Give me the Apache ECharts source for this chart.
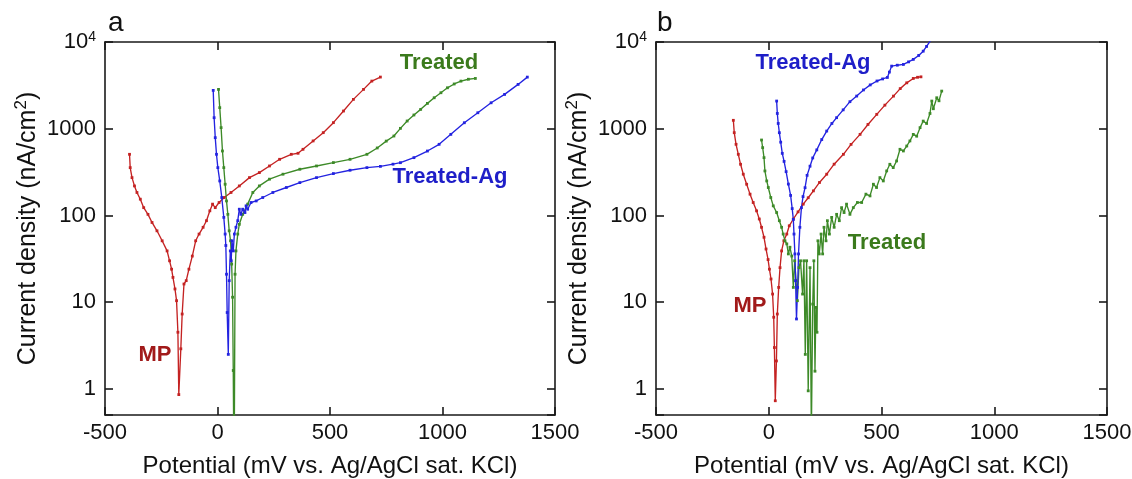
<!DOCTYPE html>
<html>
<head>
<meta charset="utf-8">
<script src="https://cdn.jsdelivr.net/npm/echarts@6/dist/echarts.min.js"></script>
<style>
html,body{margin:0;padding:0;background:#fff;}
#c{width:1132px;height:479px;}
</style>
</head>
<body>
<div id="c"></div>
<script>
// ---------- data (panel a) ----------
const aMP_x = [-391,-388,-380,-369,-358,-343,-328,-309,-291,-269,-246,-224,-213,-204,-198,-189,-182,-176,-172,-163,-157,-149,-139,-127,-112,-97,-82,-64,-49,-34,-22,-10,7,30,60,97,142,186,231,276,328,358,380,425,470,515,560,604,649,686,724];
const aMP_y = [507,356,273,219,184,154,123,103,83,66.5,51,39,30,24,19.3,14.2,10.4,4.5,0.86,2.9,7.3,16.2,17.7,24,34,51,61,73,87,113,135,123,141,161,184,219,273,312,372,444,507,521,579,723,901,1175,1600,2180,2842,3543,3940];

const aTr_x = [4.5,10,16,22,28,34,40,46,52,58,63,67,70,72,75,78,82,90,97,112,134,157,186,231,291,366,440,515,589,664,710,750,784,813,843,873,903,933,963,993,1022,1052,1082,1115,1146];
const aTr_y = [2840,1750,1029,554,356,229,147,103,66.5,51,27.5,11.4,1.63,0.3,0.4,21,39,61,79,103,135,184,219,262,299,341,372,407,444,507,600,720,824,1010,1227,1440,1672,1960,2275,2600,2965,3280,3540,3720,3800];

const aAg_x = [-19,-15,-10,-4.5,1.5,10,19,28,34,37,40,43,48,52,57,61,64,70,75,82,90,97,104,112,122,127,134,149,172,201,246,306,366,440,515,589,664,724,780,813,873,933,985,1037,1097,1157,1216,1276,1336,1377];
const aAg_y = [2767,1340,789,507,356,250,161,95,61,45,21,7.6,2.5,17.7,39,30,51,39,61,73,87,118,103,118,108,129,118,141,147,161,184,210,239,273,304,332,356,368,390,406,464,553,661,861,1172,1528,1991,2488,3243,3937];

// ---------- data (panel b) ----------
const bMP_x = [-157,-153,-145,-135,-125,-113,-98,-83,-69,-54,-42,-32,-21,-12,-3,3,10,17,22,25,29,34,38,44,50,57,67,80,91,109,130,153,175,198,225,257,290,331,365,405,440,479,515,553,583,612,641,660,675];
const bMP_y = [1250,901,661,507,389,299,229,176,141,113,91,73,56,41,31,24,18.5,12.4,6.7,3.0,0.73,2.1,7.3,14.8,25,39,51,61,76,91,110,135,160,192,240,299,390,507,660,861,1120,1465,1870,2377,2900,3383,3800,3920,3966];

const bAg_x = [35,38,42,47,53,60,68,77,87,97,104,109,112,116,119,123,128,132,138,145,152,161,170,183,195,213,235,257,280,301,330,360,390,420,450,480,505,526,535,545,570,597,620,641,665,685,700,715,725];
const bAg_y = [2085,1500,1150,900,700,520,420,320,230,170,120,90,61,36,17.7,6.4,14.8,36,73,123,165,209,290,370,460,570,750,940,1150,1341,1650,2050,2380,2800,3200,3550,3750,3900,4500,5270,5400,5510,5900,6300,7000,7840,8900,10200,11000];

const bTr_x = [-32,-27,-21,-17,-9,-2,9,20,35,47,57,64,72,80,87,94,102,109,115,121,127,134,141,150,156,162,168,175,183,189,195,200,205,209,214,218,224,232,239,245,254,260,269,279,290,301,313,323,334,345,360,375,393,412,431,449,464,478,493,508,523,537,552,567,582,597,612,626,641,656,671,685,700,715,723,730,745,755,767];
const bTr_y = [741,605,464,326,250,210,161,129,108,87,73,61,51,47,36,43,34,14.8,30,17.7,10.4,25,30,12.4,30,2.5,30,0.95,25,0.3,9.5,30,1.6,8.7,4.5,51,36,61,36,73,51,87,61,95,73,103,87,123,108,135,103,123,141,141,176,168,229,210,273,250,326,389,356,425,579,554,632,723,860,820,1029,1225,1150,1500,2084,1700,2275,2100,2716];

// ---------- axes text ----------
const xTicks = [-500, 0, 500, 1000, 1500];
const yTicks = [1, 10, 100, 1000, 10000];
const xTitle = 'Potential (mV vs. Ag/AgCl sat. KCl)';
const yTitle = '{n|Current density (nA/cm}{s|2}{n|)}';
const panelLetters = ['a', 'b'];
const seriesNames = ['MP', 'Treated', 'Treated-Ag'];

// ---------- styles ----------
const FONT = '"Liberation Sans", Arial, Helvetica, sans-serif';
const RED = '#c42222', GREEN = '#3d8a28', BLUE = '#2323e0';
const LRED = '#a11a1a', LGREEN = '#3b7a1c', LBLUE = '#1e1ec8';
const AX = '#1a1a1a';

function zip(xs, ys) { return xs.map((x, i) => [x, ys[i]]); }

const grids = [
  {left: 105, top: 42, width: 450, height: 373, outerBoundsMode: 'none', containLabel: false},
  {left: 656, top: 42, width: 451, height: 373, outerBoundsMode: 'none', containLabel: false}
];

function xAxes(g) {
  const base = {
    type: 'value', gridIndex: g, min: xTicks[0], max: xTicks[xTicks.length - 1], interval: 500,
    axisLine: {show: true, onZero: false, lineStyle: {color: AX, width: 1.6}},
    axisTick: {show: true, inside: true, length: 8, lineStyle: {color: AX, width: 1.6}},
    splitLine: {show: false}
  };
  return [
    Object.assign({}, base, {
      position: 'bottom',
      axisLabel: {show: true, margin: 7, color: '#111', fontSize: 22, fontFamily: FONT,
        showMinLabel: true, showMaxLabel: true, hideOverlap: false,
        formatter: function (v) { return String(v); }},
      name: xTitle, nameLocation: 'middle', nameGap: 39,
      nameTextStyle: {fontSize: 24, color: '#111', fontFamily: FONT}
    }),
    Object.assign({}, base, {position: 'top', axisLabel: {show: false}})
  ];
}
function yAxes(g) {
  const base = {
    type: 'log', logBase: 10, gridIndex: g, min: 0.5, max: 10000,
    axisLine: {show: true, onZero: false, lineStyle: {color: AX, width: 1.6}},
    axisTick: {show: true, inside: true, length: 8, lineStyle: {color: AX, width: 1.6}},
    minorTick: {show: false},
    splitLine: {show: false}
  };
  return [
    Object.assign({}, base, {
      position: 'left',
      axisLabel: {
        show: true, margin: 9, color: '#111', fontSize: 22, fontFamily: FONT,
        showMinLabel: true, showMaxLabel: true, hideOverlap: false,
        formatter: function (v) {
          const l = Math.log10(v);
          if (Math.abs(l - Math.round(l)) > 1e-6) return '';
          const r = Math.round(l);
          if (yTicks.indexOf(Math.pow(10, r)) < 0) return '';
          if (r === 4) return '{a|10}{s|4}';
          return String(Math.pow(10, r));
        },
        rich: {
          a: {fontSize: 22, fontFamily: FONT, color: '#111', lineHeight: 24},
          s: {fontSize: 14, fontFamily: FONT, color: '#111', verticalAlign: 'top', lineHeight: 14}
        }
      },
      name: yTitle, nameLocation: 'middle', nameGap: 62, nameRotate: 90,
      nameTextStyle: {
        rich: {
          n: {fontSize: 25, fontFamily: FONT, color: '#111', lineHeight: 30},
          s: {fontSize: 17, fontFamily: FONT, color: '#111', verticalAlign: 'top', lineHeight: 17}
        }
      }
    }),
    Object.assign({}, base, {position: 'right', axisLabel: {show: false}})
  ];
}

function line(name, data, color, axisIdx) {
  return {
    name: name, type: 'line', data: data,
    xAxisIndex: axisIdx, yAxisIndex: axisIdx,
    showSymbol: true, symbol: 'rect', symbolSize: 2.8,
    itemStyle: {color: color},
    lineStyle: {color: color, width: 1.35},
    clip: true, silent: true, animation: false, z: 3
  };
}

function label(text, cx, cy, color, bold, size) {
  return {
    type: 'text', x: cx, y: cy, silent: true, z: 10,
    style: {
      text: text, fill: color,
      font: (bold ? 'bold ' : '') + size + 'px ' + FONT,
      textAlign: 'center', textVerticalAlign: 'middle',
      align: 'center', verticalAlign: 'middle'
    }
  };
}
function letter(text, lx, cy) {
  return {
    type: 'text', x: lx, y: cy, silent: true, z: 10,
    style: {
      text: text, fill: '#111', font: '28px ' + FONT,
      textAlign: 'left', textVerticalAlign: 'middle', align: 'left', verticalAlign: 'middle'
    }
  };
}

const option = {
  backgroundColor: '#ffffff',
  animation: false,
  grid: grids,
  xAxis: xAxes(0).concat(xAxes(1)),
  yAxis: yAxes(0).concat(yAxes(1)),
  series: [
    line(seriesNames[0], zip(aMP_x, aMP_y), RED, 0),
    line(seriesNames[1], zip(aTr_x, aTr_y), GREEN, 0),
    line(seriesNames[2], zip(aAg_x, aAg_y), BLUE, 0),
    line(seriesNames[0], zip(bMP_x, bMP_y), RED, 2),
    line(seriesNames[1], zip(bTr_x, bTr_y), GREEN, 2),
    line(seriesNames[2], zip(bAg_x, bAg_y), BLUE, 2)
  ],
  graphic: {
    elements: [
      letter(panelLetters[0], 108, 23),
      letter(panelLetters[1], 657, 23),
      label(seriesNames[0], 155, 355, LRED, true, 22),
      label(seriesNames[1], 439, 63, LGREEN, true, 22),
      label(seriesNames[2], 450, 177, LBLUE, true, 22),
      label(seriesNames[2], 813, 63, LBLUE, true, 22),
      label(seriesNames[0], 750, 306, LRED, true, 22),
      label(seriesNames[1], 887, 243, LGREEN, true, 22)
    ]
  }
};

const chart = echarts.init(document.getElementById('c'), null, {renderer: 'canvas'});
chart.setOption(option);
</script>
</body>
</html>
